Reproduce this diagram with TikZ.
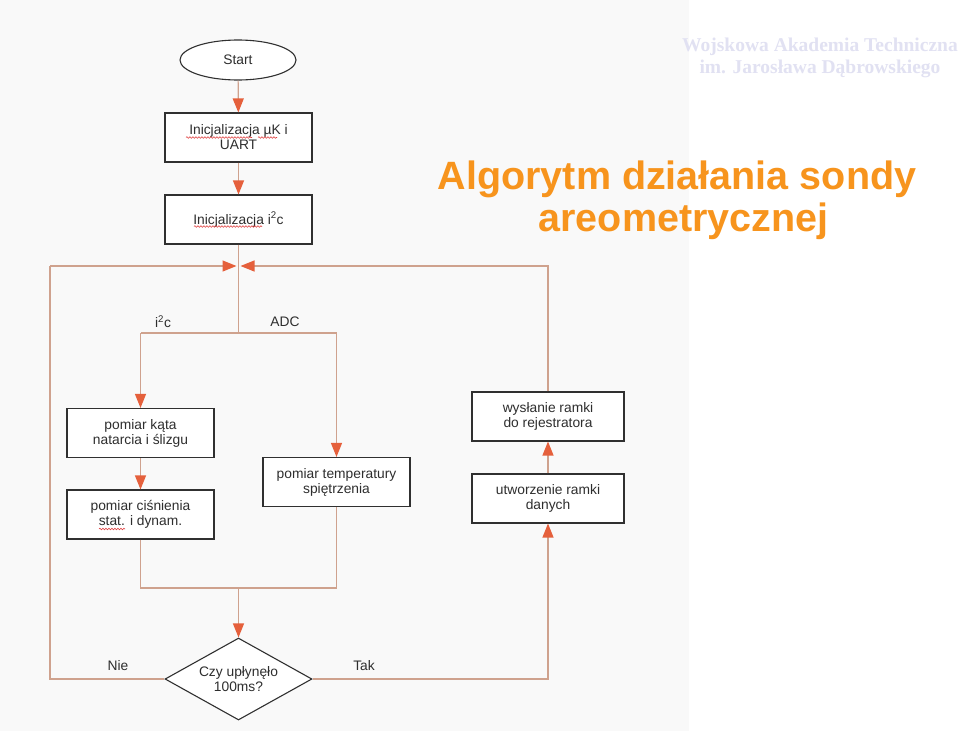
\documentclass[tikz,border=0pt]{standalone}
\usepackage{fontspec}
\setmainfont{Liberation Sans}
\newfontfamily\wmfont{Liberation Serif}
\usetikzlibrary{arrows.meta,shapes.geometric,decorations.pathmorphing}
\definecolor{bgl}{HTML}{F9F9F9}
\definecolor{linec}{HTML}{CFA28E}
\definecolor{arrowc}{HTML}{E5603C}
\definecolor{boxc}{HTML}{303030}
\definecolor{txtc}{HTML}{2E2E2E}
\definecolor{titlec}{HTML}{F7941D}
\definecolor{wmc}{HTML}{E1E1F2}
\definecolor{squigc}{HTML}{E04040}
\begin{document}
\begin{tikzpicture}[x=1pt,y=-1pt,
  every node/.style={text=txtc,font=\fontsize{13.8}{15}\selectfont},
  proc/.style={draw=boxc,fill=white,line width=1.1pt,minimum width=147pt,minimum height=49pt,inner sep=0pt,align=center},
  terminal/.style={ellipse,draw=boxc,fill=white,line width=1.1pt,minimum width=116pt,minimum height=40pt,inner sep=0pt},
  decision/.style={diamond,draw=boxc,fill=white,line width=1.1pt,minimum width=147pt,minimum height=82pt,inner sep=0pt,shape aspect=1.8,align=center},
  conn/.style={draw=linec,line width=1.2pt},
  arr/.style={conn,-{Triangle[length=14pt,width=11pt,color=arrowc]}},
  lbl/.style={inner sep=0pt},
  squig/.style={draw=squigc,line width=0.6pt,decorate,decoration={snake,amplitude=0.8pt,segment length=3pt}}
]
\fill[white] (0,0) rectangle (960,731);
\fill[bgl] (0,0) rectangle (689,731);
\useasboundingbox (0,0) rectangle (960,731);

% watermark and title
\node[text=wmc,font=\wmfont\bfseries\fontsize{19.5}{22.5}\selectfont,align=center] (wm) at (820,58) {Wojskowa Akademia Techniczna\\im. Jarosława Dąbrowskiego};
\node[text=titlec,font=\bfseries\fontsize{39.5}{42}\selectfont,align=center] (title) at (677,200) {Algorytm działania sondy\\\hspace*{13pt}areometrycznej};

% nodes
\node[terminal] (start) at (238,60) {Start};
\node[proc] (init1) at (238.5,137.5) {Inicjalizacja µK i\\UART};
\node[proc] (init2) at (238.5,219.5) {Inicjalizacja i\textsuperscript{2}c};
\coordinate (merge) at (238.5,266);
\coordinate (split) at (238.5,333);
\coordinate (sl) at (140.5,333);
\coordinate (sr) at (336.5,333);
\node[proc] (kat) at (140.5,433) {pomiar kąta\\natarcia i ślizgu};
\node[proc] (cis) at (140.5,514.5) {pomiar ciśnienia\\stat. i dynam.};
\node[proc] (temp) at (336.5,482) {pomiar temperatury\\spiętrzenia};
\coordinate (jm) at (238.5,588);
\node[decision] (dec) at (238.5,679) {Czy upłynęło\\100ms?};
\coordinate (cltop) at (50,266);
\node[proc,minimum width=152pt] (utw) at (548,498.5) {utworzenie ramki\\danych};
\node[proc,minimum width=152pt] (wys) at (548,416.5) {wysłanie ramki\\do rejestratora};

% labels
\node[lbl] (li2c) at (163,322) {i\textsuperscript{2}c};
\node[lbl] (ladc) at (285,322) {ADC};
\node[lbl] (lnie) at (118,666) {Nie};
\node[lbl] (ltak) at (364,666) {Tak};

% connectors
\draw[arr] (start) -- (init1);
\draw[arr] (init1) -- (init2);
\draw[conn] (init2) -- (split);
\draw[conn] (split) -- (sl);
\draw[arr] (sl) -- (kat);
\draw[conn] (split) -- (sr);
\draw[arr] (sr) -- (temp);
\draw[arr] (kat) -- (cis);
\draw[conn] (cis) |- (jm);
\draw[conn] (temp) |- (jm);
\draw[arr] (jm) -- (dec);
\draw[conn] (dec.west) -| (cltop);
\draw[arr,shorten >=2pt] (cltop) -- (merge);
\draw[arr] (dec.east) -| (utw.south);
\draw[arr] (utw) -- (wys);
\draw[arr,shorten >=2pt] (wys.north) |- (merge);

% spell-check squiggles
\draw[squig] (186,137.5) -- (252,137.5);
\draw[squig] (258,137.5) -- (277,137.5);
\draw[squig] (194,226.5) -- (262,226.5);
\draw[squig] (99,529) -- (125,529);
\end{tikzpicture}
\end{document}
